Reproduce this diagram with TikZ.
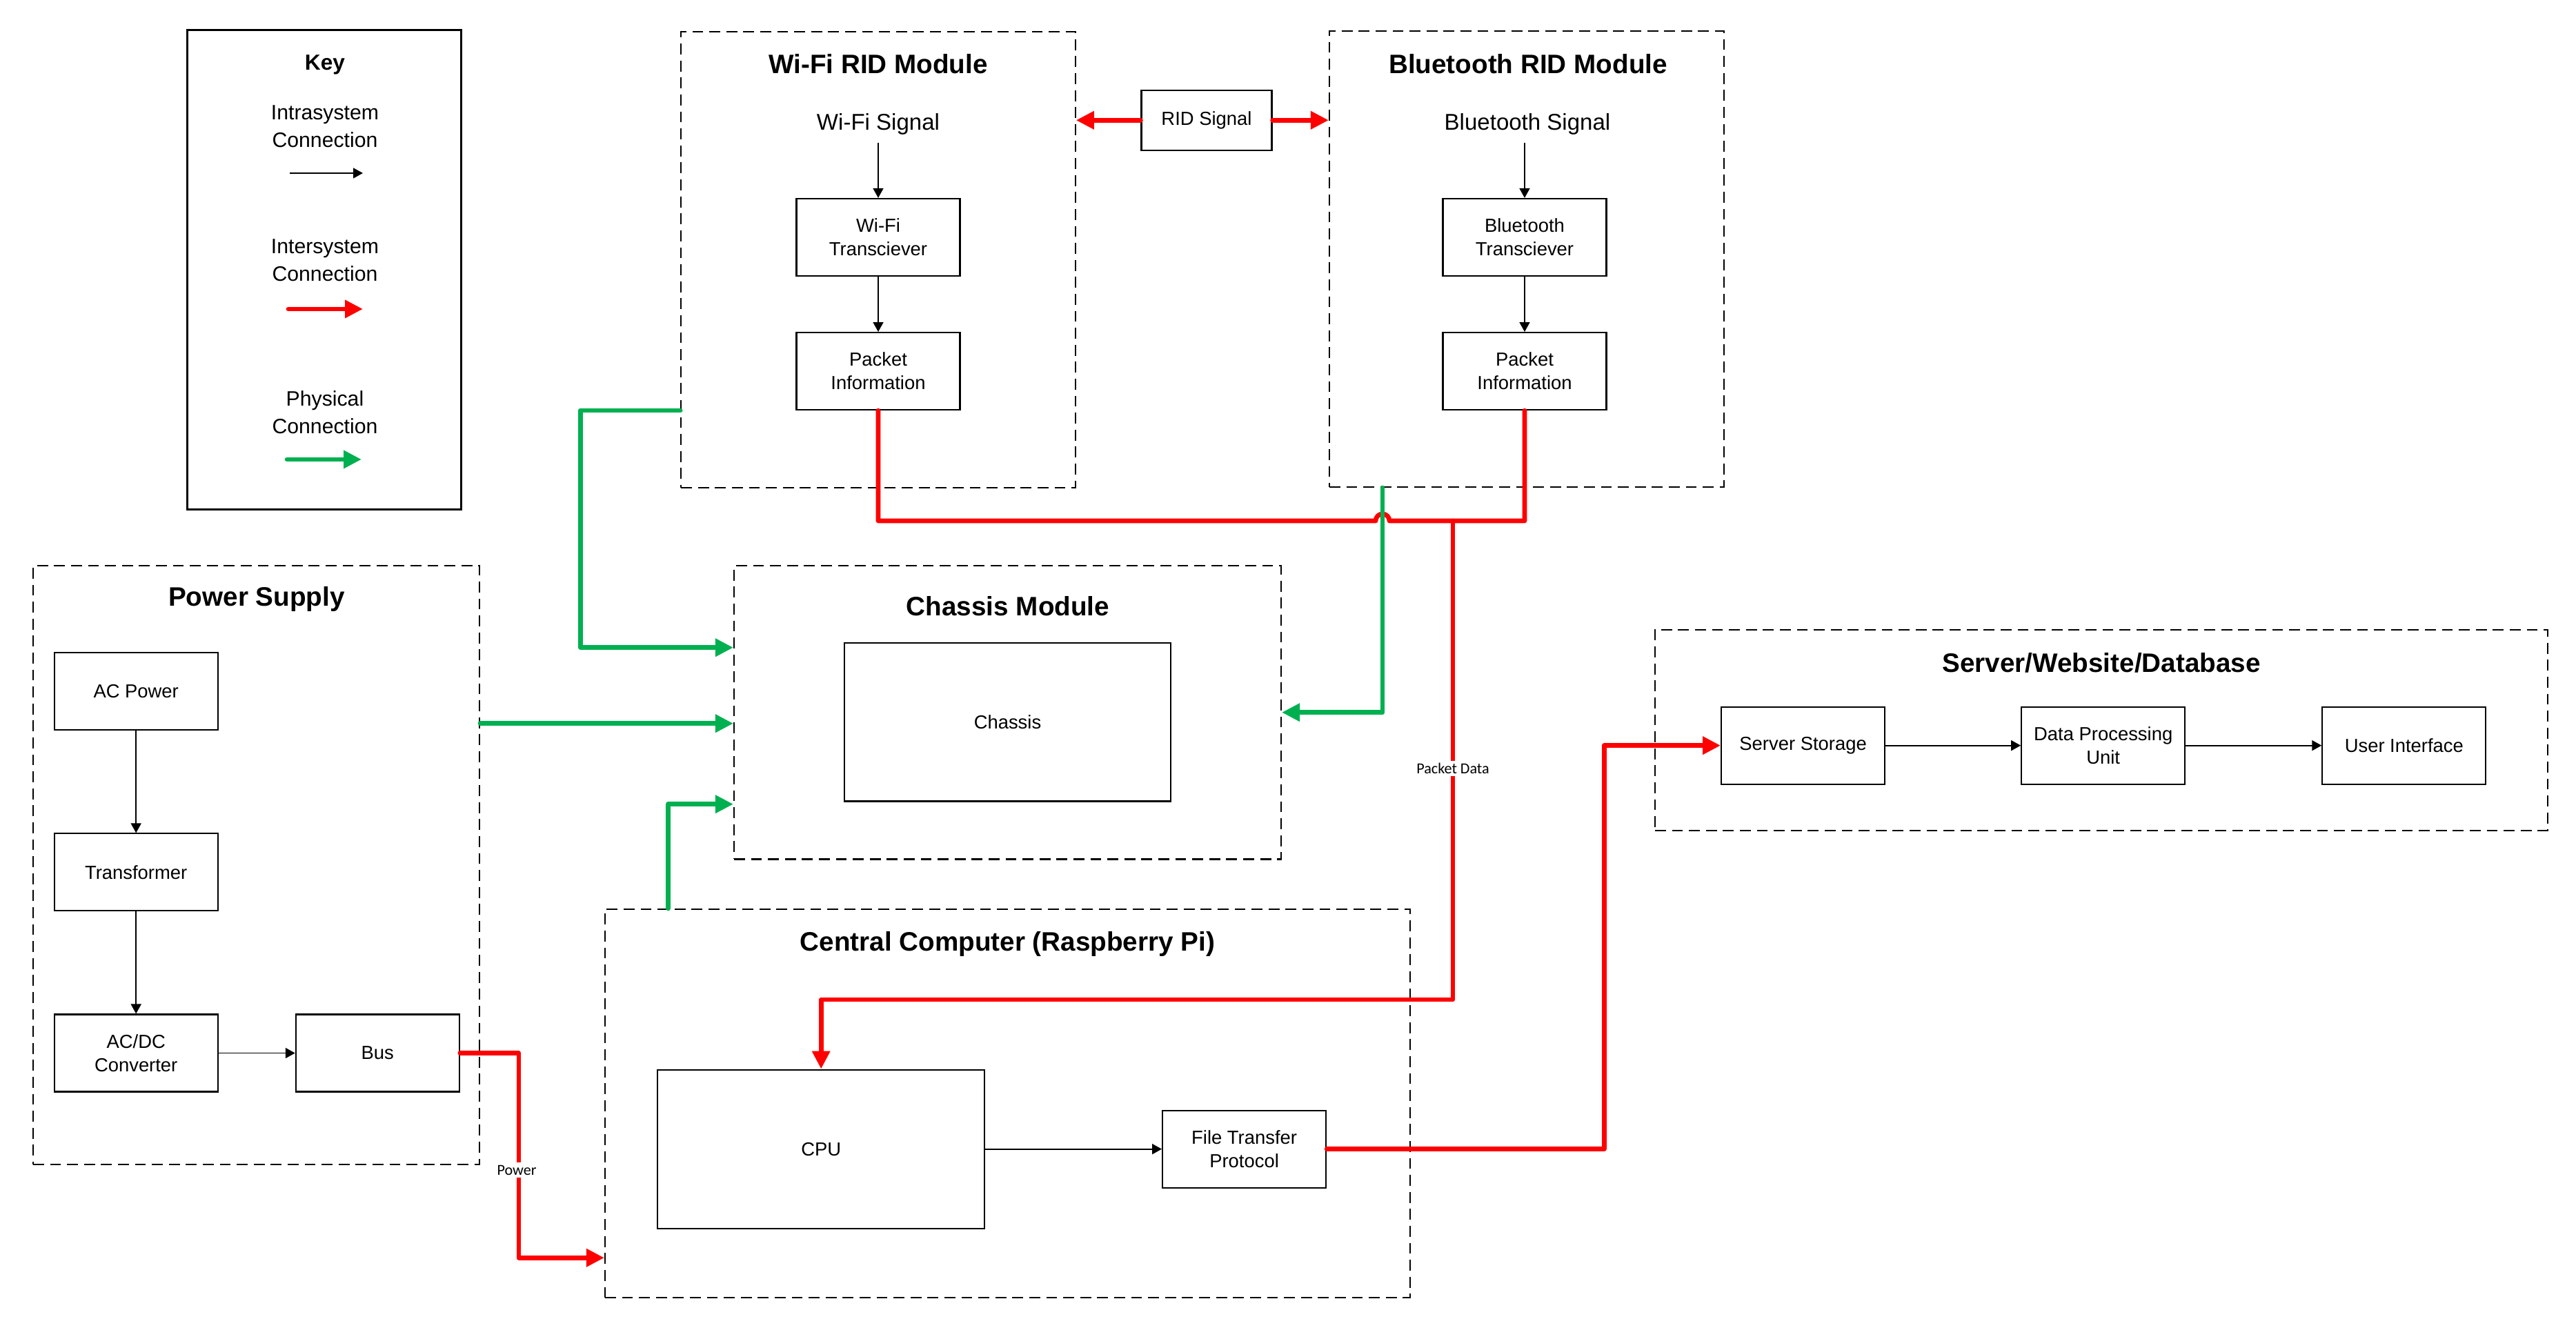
\documentclass[tikz,border=0pt]{standalone}
\usepackage{fontspec}
\setmainfont{Liberation Sans}
\newfontfamily\calfont{Carlito}
\usepackage{xcolor}
\usetikzlibrary{positioning, arrows.meta, calc}

\definecolor{linkred}{RGB}{255,0,0}
\definecolor{linkgreen}{RGB}{0,176,80}

\begin{document}
\begin{tikzpicture}[
		% --- Styles ---
		module/.style={
			rectangle, draw, line width=0.6pt, dash pattern=on 4.5pt off 2.5pt, inner sep=0pt
		},
		block/.style={
			rectangle, draw, line width=0.6pt, minimum width=2.37cm, minimum height=1.12cm,
			align=center, inner sep=2pt, font=\fontsize{7.8}{9.7}\selectfont
		},
		modtitle/.style={
			font=\bfseries\fontsize{11}{13}\selectfont, inner sep=0pt
		},
		sigtext/.style={
			font=\fontsize{9.4}{11}\selectfont
		},
		keytext/.style={
			font=\fontsize{8.6}{11.4}\selectfont, align=center, inner sep=0pt
		},
		lbl/.style={
			font=\calfont\fontsize{6.3}{7}\selectfont, fill=white, inner sep=1pt
		},
		% Connector types
		intra/.style={
			draw=black, line width=0.5pt, -{Triangle[length=0.14cm,width=0.15cm]}
		},
		inter/.style={
			draw=linkred, line width=1.9pt, line cap=round, line join=round,
			-{Triangle[length=0.26cm,width=0.25cm]}
		},
		phys/.style={
			draw=linkgreen, line width=1.9pt, line cap=round, line join=round,
			-{Triangle[length=0.26cm,width=0.25cm]}
		}
		]
		
		\useasboundingbox (0,0) rectangle (37.34,19.41);
		
		% --- 1. Key ---
		\node [draw, line width=0.6pt, minimum width=3.97cm, minimum height=6.95cm] (key) at (4.70,15.50) {};
		\node [font=\bfseries\fontsize{9}{11}\selectfont] (keyhead) at (4.71,18.47) {Key};
		\node [keytext] (keyintra) at (4.71,17.58) {Intrasystem\\Connection};
		\coordinate (k1a) at (4.20,16.90);
		\coordinate (k1b) at (5.26,16.90);
		\draw [intra] (k1a) -- (k1b);
		\node [keytext] (keyinter) at (4.71,15.635) {Intersystem\\Connection};
		\coordinate (k2a) at (4.18,14.93);
		\coordinate (k2b) at (5.26,14.93);
		\draw [inter] (k2a) -- (k2b);
		\node [keytext] (keyphys) at (4.71,13.435) {Physical\\Connection};
		\coordinate (k3a) at (4.16,12.75);
		\coordinate (k3b) at (5.24,12.75);
		\draw [phys] (k3a) -- (k3b);
		
		% --- 2. Wi-Fi RID Module ---
		\node [module, minimum width=5.715cm, minimum height=6.605cm] (wifi) at (12.73,15.645) {};
		\node [modtitle] (wifititle) at (12.73,18.485) {Wi-Fi RID Module};
		\node [sigtext] (wsig) at (12.73,17.615) {Wi-Fi Signal};
		\node [block] (wtrx) at (12.73,15.97) {Wi-Fi\\Transciever};
		\node [block, below=0.8cm of wtrx] (wpkt) {Packet\\Information};
		\draw [intra] (wsig.south) -- (wtrx.north);
		\draw [intra] (wtrx) -- (wpkt);
		
		% --- 3. Bluetooth RID Module ---
		\node [module, minimum width=5.72cm, minimum height=6.61cm] (bt) at (22.13,15.655) {};
		\node [modtitle] (bttitle) at (22.15,18.485) {Bluetooth RID Module};
		\node [sigtext] (bsig) at (22.14,17.615) {Bluetooth Signal};
		\node [block] (btrx) at (22.10,15.97) {Bluetooth\\Transciever};
		\node [block, below=0.8cm of btrx] (bpkt) {Packet\\Information};
		\draw [intra] (bsig.south -| btrx.north) -- (btrx.north);
		\draw [intra] (btrx) -- (bpkt);
		
		% RID signal between the two modules
		\node [block, minimum width=1.89cm, minimum height=0.87cm] (rid) at (17.49,17.667) {RID Signal};
		\draw [inter] (rid.west) -- (rid.west -| wifi.east);
		\draw [inter] (rid.east) -- (rid.east -| bt.west);
		
		% --- 4. Chassis Module ---
		\node [module, minimum width=7.93cm, minimum height=4.255cm] (chm) at (14.605,9.0825) {};
		\node [modtitle] (chmtitle) at (14.61,10.62) {Chassis Module};
		\node [block, minimum width=4.735cm, minimum height=2.295cm] (chassis) at (14.605,8.9425) {Chassis};
		
		% --- 5. Power Supply ---
		\node [module, minimum width=6.47cm, minimum height=8.68cm] (psu) at (3.715,6.87) {};
		\node [modtitle] (psutitle) at (3.72,10.72) {Power Supply};
		\node [block] (acp) at (1.972,9.3865) {AC Power};
		\node [block, below=1.48cm of acp] (trf) {Transformer};
		\node [block, below=1.48cm of trf] (acdc) {AC/DC\\Converter};
		\node [block, right=1.11cm of acdc] (bus) {Bus};
		\draw [intra] (acp) -- (trf);
		\draw [intra] (trf) -- (acdc);
		\draw [intra] (acdc) -- (bus);
		
		% --- 6. Central Computer ---
		\node [module, minimum width=11.67cm, minimum height=5.626cm] (cc) at (14.605,3.417) {};
		\node [modtitle] (cctitle) at (14.605,5.72) {Central Computer (Raspberry Pi)};
		\node [block, minimum width=4.736cm, minimum height=2.30cm] (cpu) at (11.902,2.753) {CPU};
		\node [block] (ftp) at (18.036,2.753) {File Transfer\\Protocol};
		\draw [intra] (cpu) -- (ftp);
		
		% --- 7. Server/Website/Database ---
		\node [module, minimum width=12.936cm, minimum height=2.913cm] (srv) at (30.458,8.8265) {};
		\node [modtitle] (srvtitle) at (30.46,9.803) {Server/Website/Database};
		\node [block] (sst) at (26.136,8.603) {Server Storage};
		\node [block, right=1.96cm of sst] (dpu) {Data Processing\\Unit};
		\node [block, right=1.97cm of dpu] (ui) {User Interface};
		\draw [intra] (sst) -- (dpu);
		\draw [intra] (dpu) -- (ui);
		
		% --- 8. Intersystem links (red) ---
		\coordinate (bgo) at ($(bt.south)+(-2.09,0)$);
		\coordinate (pj) at (21.06,11.86);
		\coordinate (hopa) at ($(bgo |- pj)+(-0.1,0)$);
		% packet bus with a hop over the green line
		\draw [inter, -] (wpkt.south) |- (hopa) arc [start angle=180, end angle=0, radius=0.1] -- (bpkt.south |- pj) -- (bpkt.south);
		% packet data down to the CPU
		\coordinate (pturn) at (21.06,4.92);
		\draw [inter] (pj) -- (pturn) -| (cpu.north);
		\node [lbl] (pdlbl) at (21.06,8.27) {Packet Data};
		% power from the bus
		\coordinate (pwin) at (cc.west |- 0,1.177);
		\draw [inter] (bus.east) -- ++(0.85,0) |- (pwin);
		\node [lbl] (pwrlbl) at (7.49,2.45) {Power};
		% file transfer to the server
		\draw [inter] (ftp.east) -- ++(4.02,0) |- (sst.west);
		
		% --- 9. Physical links (green) ---
		\coordinate (wgo) at ($(wifi.west)+(0,-2.185)$);
		\coordinate (chin1) at ($(chm.west)+(0,0.94)$);
		\draw [phys] (wgo) -- ++(-1.45,0) |- (chin1);
		\coordinate (chin2) at ($(chm.west)+(0,-0.16)$);
		\draw [phys] (psu.east |- chin2) -- (chin2);
		\coordinate (ccgo) at ($(cc.north)+(-4.92,0)$);
		\coordinate (chin3) at ($(chm.west)+(0,-1.33)$);
		\draw [phys] (ccgo) |- (chin3);
		\draw [phys] (bgo) |- (chm.east);
		
	\end{tikzpicture}
\end{document}
